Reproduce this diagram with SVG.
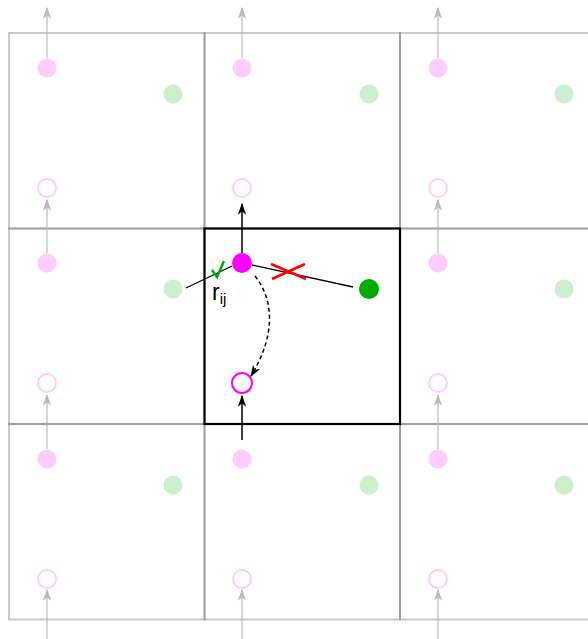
<svg xmlns="http://www.w3.org/2000/svg" width="588" height="639" viewBox="0 0 588 639">
<defs>
<marker id="ag" viewBox="0 0 10 7" refX="9" refY="3.5" markerWidth="12" markerHeight="8.4" orient="auto" markerUnits="userSpaceOnUse">
<path d="M0,0 L10,3.5 L0,7 L3,3.5 Z" fill="#bbbbbb"/>
</marker>
<marker id="ak" viewBox="0 0 10 7" refX="9" refY="3.5" markerWidth="12" markerHeight="8.4" orient="auto" markerUnits="userSpaceOnUse">
<path d="M0,0 L10,3.5 L0,7 L3,3.5 Z" fill="#000"/>
</marker>
<style>
.cell{fill:none;stroke:#000;stroke-opacity:0.21;stroke-width:2}
.pf{fill:#ffccff}
.ph{fill:none;stroke:#ffccff;stroke-width:2}
.gf{fill:#ccefcc}
.ga{stroke:#bbbbbb;stroke-width:1.2;fill:none;marker-end:url(#ag)}
.ka{stroke:#000;stroke-width:1.5;fill:none;marker-end:url(#ak)}
</style>
</defs>
<rect width="588" height="639" fill="#fff"/>
<g id="grid">
<rect class="cell" x="9" y="33" width="195.5" height="195.5"/>
<rect class="cell" x="204.5" y="33" width="195.5" height="195.5"/>
<rect class="cell" x="400" y="33" width="195.5" height="195.5"/>
<rect class="cell" x="9" y="228.5" width="195.5" height="195.5"/>
<rect class="cell" x="400" y="228.5" width="195.5" height="195.5"/>
<rect class="cell" x="9" y="424" width="195.5" height="195.5"/>
<rect class="cell" x="204.5" y="424" width="195.5" height="195.5"/>
<rect class="cell" x="400" y="424" width="195.5" height="195.5"/>
</g>
<g id="images">
<circle class="pf" cx="47" cy="68" r="9.5"/><circle class="gf" cx="173" cy="94" r="9.5"/><circle class="ph" cx="47" cy="188" r="9"/>
<circle class="pf" cx="242" cy="68" r="9.5"/><circle class="gf" cx="369" cy="94" r="9.5"/><circle class="ph" cx="242" cy="188" r="9"/>
<circle class="pf" cx="438" cy="68" r="9.5"/><circle class="gf" cx="564" cy="94" r="9.5"/><circle class="ph" cx="438" cy="188" r="9"/>
<circle class="pf" cx="47" cy="263" r="9.5"/><circle class="gf" cx="173" cy="289" r="9.5"/><circle class="ph" cx="47" cy="383" r="9"/>
<circle class="pf" cx="438" cy="263" r="9.5"/><circle class="gf" cx="564" cy="289" r="9.5"/><circle class="ph" cx="438" cy="383" r="9"/>
<circle class="pf" cx="47" cy="459" r="9.5"/><circle class="gf" cx="173" cy="485" r="9.5"/><circle class="ph" cx="47" cy="579" r="9"/>
<circle class="pf" cx="242" cy="459" r="9.5"/><circle class="gf" cx="369" cy="485" r="9.5"/><circle class="ph" cx="242" cy="579" r="9"/>
<circle class="pf" cx="438" cy="459" r="9.5"/><circle class="gf" cx="564" cy="485" r="9.5"/><circle class="ph" cx="438" cy="579" r="9"/>
</g>
<g id="connectors">
<path class="ga" d="M47,58 V8"/><path class="ga" d="M242,58 V8"/><path class="ga" d="M438,58 V8"/>
<path class="ga" d="M47,253 V200"/><path class="ga" d="M438,253 V200"/>
<path class="ga" d="M47,449 V395"/><path class="ga" d="M438,449 V395"/>
<path class="ga" d="M47,639 V590"/><path class="ga" d="M242,639 V590"/><path class="ga" d="M438,639 V590"/>
<path class="ka" d="M242,253 V204"/>
<path class="ka" d="M242,440 V396"/>
<path d="M252,265 L353,287" stroke="#000" stroke-width="1.3" fill="none"/>
<path d="M232,266 L186,288" stroke="#000" stroke-width="1.3" fill="none"/>
<path class="ka" d="M255,276 C274,300 276,335 251,376" stroke-dasharray="4,3" stroke-width="1.3"/>
</g>
<g id="center-cell">
<rect x="204.5" y="228.5" width="195.5" height="195.5" fill="none" stroke="#000" stroke-width="2.2"/>
<circle id="particle" cx="242" cy="263" r="10" fill="#ff00ff"/>
<circle id="image-particle" cx="242" cy="383" r="10" fill="none" stroke="#ff00ff" stroke-width="2"/>
<circle id="neighbor" cx="369" cy="289" r="10" fill="#00aa00"/>
</g>
<g id="marks">
<path d="M271,264 L306,279 M272,279 L305,264" stroke="#ff0000" stroke-width="2.5" fill="none"/>
<path d="M212,270 L217,277 L224,261" stroke="#00aa00" stroke-width="2.5" fill="none"/>
<text x="212" y="300" font-family="Liberation Sans, Arial, sans-serif" font-size="23" fill="#000">r<tspan font-size="15" dy="4">ij</tspan></text>
</g>
</svg>
